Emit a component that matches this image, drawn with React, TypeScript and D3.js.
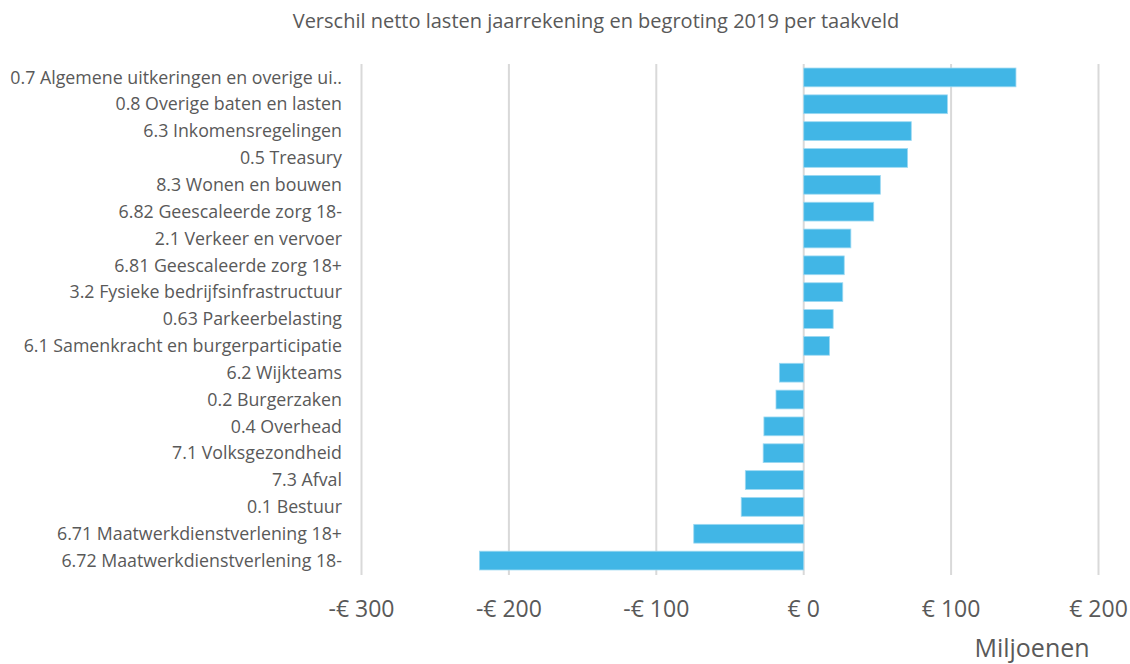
import React from "react";
import * as d3 from "d3";

const categories = [
  "0.7 Algemene uitkeringen en overige ui..",
  "0.8 Overige baten en lasten",
  "6.3 Inkomensregelingen",
  "0.5 Treasury",
  "8.3 Wonen en bouwen",
  "6.82 Geescaleerde zorg 18-",
  "2.1 Verkeer en vervoer",
  "6.81 Geescaleerde zorg 18+",
  "3.2 Fysieke bedrijfsinfrastructuur",
  "0.63 Parkeerbelasting",
  "6.1 Samenkracht en burgerparticipatie",
  "6.2 Wijkteams",
  "0.2 Burgerzaken",
  "0.4 Overhead",
  "7.1 Volksgezondheid",
  "7.3 Afval",
  "0.1 Bestuur",
  "6.71 Maatwerkdienstverlening 18+",
  "6.72 Maatwerkdienstverlening 18-",
];
const values = [144, 97.5, 73, 70.5, 52, 47.5, 32, 27.5, 26.5, 20, 17.5, -16.5, -18.8, -27, -27.5, -39.6, -42.4, -74.6, -220];
const ticks = [-300, -200, -100, 0, 100, 200];

const W = 1130;
const H = 664;
const FONT = "'Segoe UI', 'Open Sans', sans-serif";

export default function App() {
  const x = d3.scaleLinear().domain([-300, 200]).range([361.5, 1098.5]);
  const y = d3.scaleBand<string>().domain(categories).range([64, 574]).paddingInner(0.3).paddingOuter(0.15);
  const fmt = (v: number) => (v < 0 ? "-€ " + Math.abs(v) : "€ " + v);
  return (
    <svg width={W} height={H} style={{ position: "absolute", left: 0, top: 0, background: "#fff" }}>
      <text x={596} y={28} textAnchor="middle" fontFamily={FONT} fontSize={20} fill="#595959">
        Verschil netto lasten jaarrekening en begroting 2019 per taakveld
      </text>
      {ticks.map((t) => (
        <line key={t} x1={x(t)} x2={x(t)} y1={64} y2={575} stroke="#d9d9d9" strokeWidth={2} />
      ))}
      {categories.map((c, i) => {
        const v = values[i];
        const x0 = Math.min(x(0), x(v));
        const w = Math.abs(x(v) - x(0));
        return (
          <rect key={c} x={x0} y={y(c)!} width={w} height={y.bandwidth()} fill="#41B6E6" stroke="#9ED9F2" strokeWidth={0.8} />
        );
      })}
      {categories.map((c) => (
        <text key={c} x={342} y={y(c)! + y.bandwidth() / 2} dy="0.35em" textAnchor="end" fontFamily={FONT} fontSize={17.8} fill="#595959">
          {c}
        </text>
      ))}
      {ticks.map((t) => (
        <text key={t} x={x(t)} y={617} textAnchor="middle" fontFamily={FONT} fontSize={23} fill="#595959">
          {fmt(t)}
        </text>
      ))}
      <text x={1032} y={657} textAnchor="middle" fontFamily={FONT} fontSize={25} fill="#595959">
        Miljoenen
      </text>
    </svg>
  );
}
